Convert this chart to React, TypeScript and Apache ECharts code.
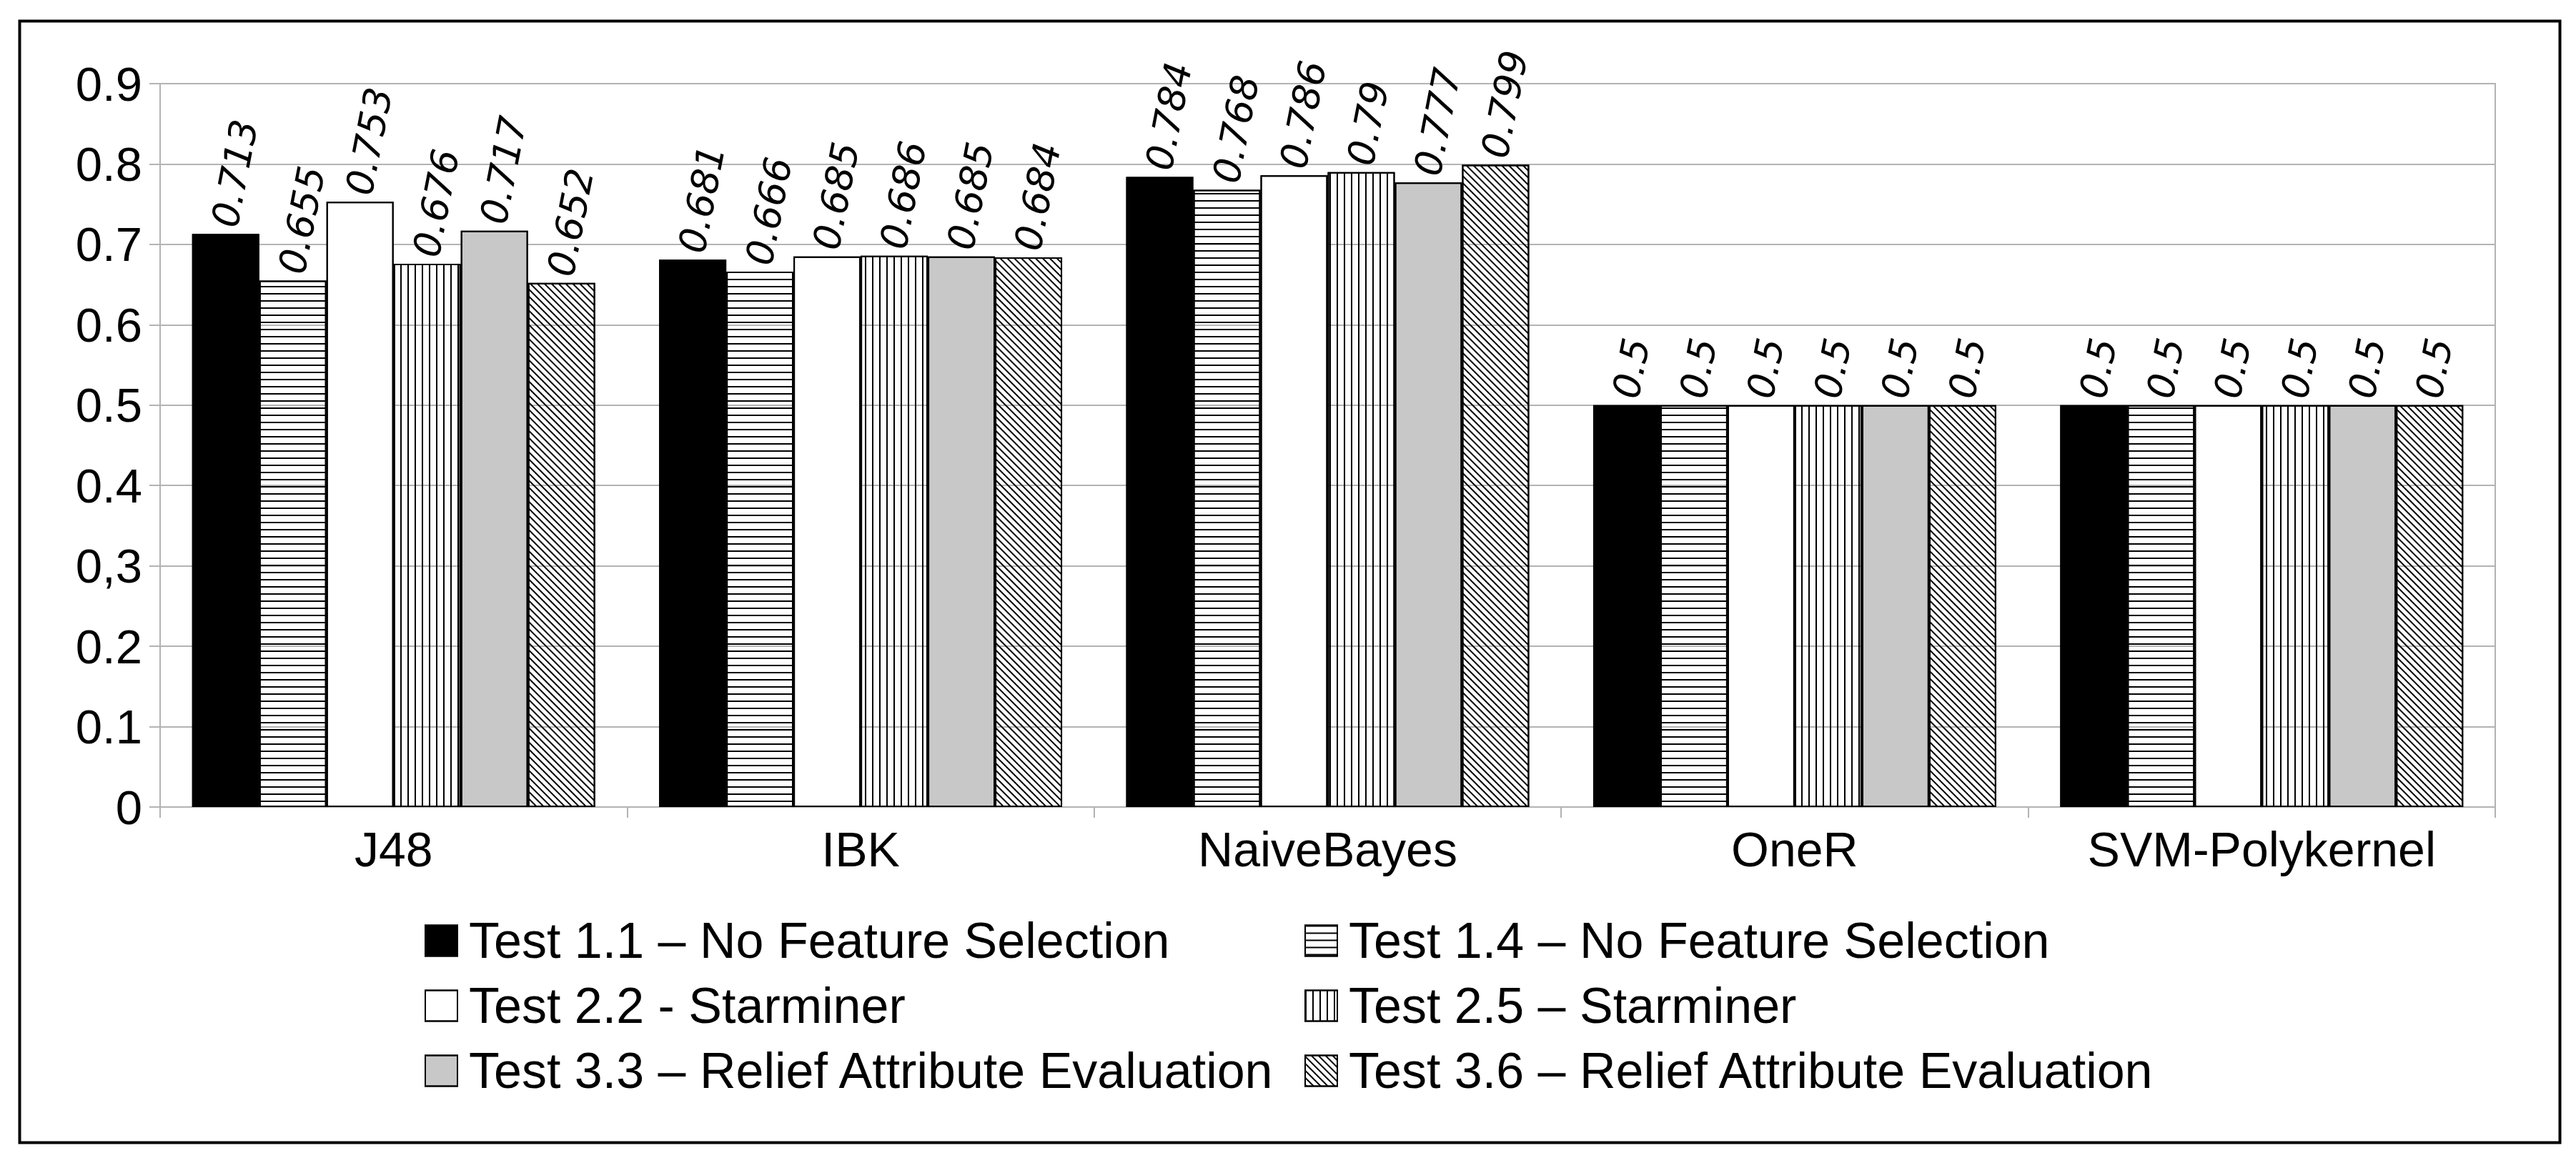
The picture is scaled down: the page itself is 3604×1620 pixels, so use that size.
import React, { useEffect, useRef } from 'react';
import * as echarts from 'echarts';

const categories = ['J48', 'IBK', 'NaiveBayes', 'OneR', 'SVM-Polykernel'];
const seriesNames = [
  'Test 1.1 – No Feature Selection',
  'Test 1.4 – No Feature Selection',
  'Test 2.2 - Starminer',
  'Test 2.5 – Starminer',
  'Test 3.3 – Relief Attribute Evaluation',
  'Test 3.6 – Relief Attribute Evaluation',
];
const test11 = [0.713, 0.681, 0.784, 0.5, 0.5];
const test14 = [0.655, 0.666, 0.768, 0.5, 0.5];
const test22 = [0.753, 0.685, 0.786, 0.5, 0.5];
const test25 = [0.676, 0.686, 0.79, 0.5, 0.5];
const test33 = [0.717, 0.685, 0.777, 0.5, 0.5];
const test36 = [0.652, 0.684, 0.799, 0.5, 0.5];
const yTickLabels = ['0', '0.1', '0.2', '0,3', '0.4', '0.5', '0.6', '0.7', '0.8', '0.9'];

export default function App() {
  const ref = useRef<HTMLDivElement>(null);
  useEffect(() => {
    const chart = echarts.init(ref.current as HTMLDivElement, null, { renderer: 'svg' });
    const grayLine = '#b3b3b3';
    const sans = 'Liberation Sans';
    const hLines = { symbol: 'rect', symbolSize: 1, dashArrayX: [1, 0], dashArrayY: [2, 8], rotation: 0, color: '#000', backgroundColor: null };
    const vLines = { symbol: 'rect', symbolSize: 1, dashArrayX: [2, 8], dashArrayY: [1, 0], rotation: 0, color: '#000', backgroundColor: null };
    const dLines = { symbol: 'rect', symbolSize: 1, dashArrayX: [1, 0], dashArrayY: [2, 5], rotation: Math.PI / 4, color: '#000', backgroundColor: null };
    const noDecal = { symbol: 'none' };
    const styles = [
      { color: '#000000', decal: noDecal },
      { color: 'rgba(0,0,0,0)', decal: hLines },
      { color: '#ffffff', decal: noDecal },
      { color: 'rgba(0,0,0,0)', decal: vLines },
      { color: '#c8c8c8', decal: noDecal },
      { color: 'rgba(0,0,0,0)', decal: dLines },
    ];
    const values = [test11, test14, test22, test25, test33, test36];
    const series = values.map((vals, i) => ({
      name: seriesNames[i],
      type: 'bar',
      data: vals,
      barGap: '0%',
      barCategoryGap: '13.7%',
      itemStyle: {
        color: styles[i].color,
        borderColor: '#000',
        borderWidth: 2,
        decal: styles[i].decal,
      },
      label: {
        show: true,
        position: 'top',
        distance: 18,
        rotate: 79,
        align: 'left',
        verticalAlign: 'middle',
        offset: [-8, 0],
        fontFamily: 'DejaVu Sans',
        fontStyle: 'italic',
        fontSize: 53,
        color: '#000',
        formatter: (p: any) => String(p.value),
      },
    }));
    const legendCommon = {
      orient: 'vertical',
      top: 1276,
      itemWidth: 45,
      itemHeight: 43,
      itemGap: 21,
      icon: 'rect',
      selectedMode: false,
      textStyle: { fontFamily: sans, fontSize: 70, lineHeight: 70, color: '#000', padding: [0, 0, 0, 11] },
    };
    chart.setOption({
      animation: false,
      backgroundColor: '#ffffff',
      grid: { left: 224, right: 113, top: 117, bottom: 491, show: true, borderColor: grayLine, borderWidth: 2, backgroundColor: 'transparent' },
      legend: [
        { ...legendCommon, left: 589, data: [seriesNames[0], seriesNames[2], seriesNames[4]] },
        { ...legendCommon, left: 1820, data: [seriesNames[1], seriesNames[3], seriesNames[5]] },
      ],
      xAxis: {
        type: 'category',
        data: categories,
        axisLine: { show: true, lineStyle: { color: grayLine, width: 2 } },
        axisTick: { show: true, length: 15, alignWithLabel: false, interval: 0, lineStyle: { color: grayLine, width: 2 } },
        axisLabel: { interval: 0, margin: 25, fontFamily: sans, fontSize: 68, color: '#000' },
        splitLine: { show: false },
      },
      yAxis: {
        type: 'value',
        min: 0,
        max: 0.9,
        interval: 0.1,
        axisLine: { show: true, lineStyle: { color: grayLine, width: 2 } },
        axisTick: { show: true, length: 15, lineStyle: { color: grayLine, width: 2 } },
        splitLine: { show: true, lineStyle: { color: grayLine, width: 2 } },
        axisLabel: {
          margin: 25,
          fontFamily: sans,
          fontSize: 67,
          color: '#000',
          formatter: (v: number) => yTickLabels[Math.round(v * 10)],
        },
      },
      graphic: [
        {
          type: 'rect',
          left: 25,
          top: 27,
          shape: { x: 0, y: 0, width: 3554, height: 1569 },
          style: { fill: 'none', stroke: '#000', lineWidth: 4 },
          silent: true,
        },
      ],
      series,
    });
    return () => chart.dispose();
  }, []);
  return (
    <div
      ref={ref}
      style={{ position: 'absolute', left: 0, top: 0, width: 3604, height: 1620, background: '#fff' }}
    />
  );
}
